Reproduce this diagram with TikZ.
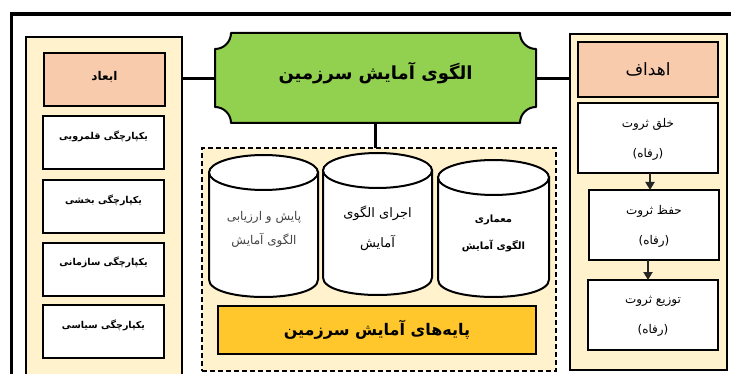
\documentclass[tikz,border=0pt]{standalone}
\usepackage{fontspec}
\newfontfamily\fa[Script=Arabic]{DejaVu Sans}
\TeXXeTstate=1
\usetikzlibrary{arrows.meta}
\definecolor{cream}{HTML}{FFF2CC}
\definecolor{salmon}{HTML}{F8CBAD}
\definecolor{leaf}{HTML}{92D050}
\definecolor{gold}{HTML}{FFC72C}
\definecolor{txtgray}{HTML}{444444}
\newcommand{\rl}[1]{\beginR #1\endR}
\newcommand{\drawcyl}[4]{%
  \pgfmathsetmacro\cxa{#1}\pgfmathsetmacro\cxb{#2}%
  \pgfmathsetmacro\cyt{#3+17.5}\pgfmathsetmacro\cyb{#4-17.5}%
  \pgfmathsetmacro\cyc{#4+5.83}%
  \pgfmathsetmacro\cxm{(#1+#2)/2}\pgfmathsetmacro\crx{(#2-#1)/2}%
  \draw[cylline] (\cxa,\cyt) -- (\cxa,\cyb) .. controls (\cxa,\cyc) and (\cxb,\cyc) .. (\cxb,\cyb) -- (\cxb,\cyt) -- cycle;
  \draw[cylline] (\cxm,\cyt) ellipse [x radius=\crx, y radius=17.5];
}
\tikzset{
  panel/.style={draw, line width=2pt, fill=cream, inner sep=0pt, outer sep=0pt, anchor=north west},
  box/.style={draw, line width=2.2pt, fill=white, inner sep=0pt, outer sep=0pt, anchor=north west},
  headbox/.style={box, fill=salmon},
  ltext/.style={font=\fa\bfseries\fontsize{9.5}{11}\selectfont},
  rtext/.style={font=\fa\fontsize{12}{30}\selectfont, align=center},
  conn/.style={line width=3pt},
  cylline/.style={draw, line width=2pt, fill=white},
  arr/.style={line width=2pt, draw=black!85, -{Triangle[length=8pt,width=9pt]}},
}
\begin{document}
\begin{tikzpicture}[x=1pt,y=-1pt]
\useasboundingbox (0,0) rectangle (731,374);
\clip (0,0) rectangle (731,374);
% outer frame
\draw[line width=3.5pt] (11.5,14) rectangle (745,390);

% left panel
\node[panel, minimum width=156pt, minimum height=350pt] (lpanel) at (26,37) {};
\node[headbox, minimum width=121pt, minimum height=53pt] (lhead) at (44,53) {};
\node[font=\fa\bfseries\fontsize{12}{14}\selectfont, yshift=3pt] (lheadt) at (lhead.center) {\rl{ابعاد}};
\node[box, minimum width=121pt, minimum height=53pt] (lb1) at (43,116) {};
\node[box, minimum width=121pt, minimum height=53pt] (lb2) at (43,180) {};
\node[box, minimum width=121pt, minimum height=53pt] (lb3) at (43,243) {};
\node[box, minimum width=121pt, minimum height=53pt] (lb4) at (43,305) {};
\node[ltext, yshift=6pt] (lt1) at (lb1.center) {\rl{یکپارچگی قلمرویی}};
\node[ltext, yshift=6pt] (lt2) at (lb2.center) {\rl{یکپارچگی بخشی}};
\node[ltext, yshift=7pt] (lt3) at (lb3.center) {\rl{یکپارچگی سازمانی}};
\node[ltext, yshift=6pt] (lt4) at (lb4.center) {\rl{یکپارچگی سیاسی}};

% right panel
\node[panel, minimum width=157pt, minimum height=336pt] (rpanel) at (570,34) {};
\node[headbox, minimum width=140pt, minimum height=55pt] (rhead) at (578,42) {};
\node[font=\fa\fontsize{17}{20}\selectfont] (rheadt) at (rhead.center) {\rl{اهداف}};
\node[box, minimum width=140pt, minimum height=70pt] (rb1) at (578,103) {};
\node[box, minimum width=130pt, minimum height=70pt] (rb2) at (589,190) {};
\node[box, minimum width=130pt, minimum height=70pt] (rb3) at (588,280) {};
\node[rtext, yshift=-1pt] (rt1) at (rb1.center) {\rl{خلق ثروت}\\\rl{(رفاه)}};
\node[rtext, yshift=-1pt] (rt2) at (rb2.center) {\rl{حفظ ثروت}\\\rl{(رفاه)}};
\node[rtext, yshift=-1pt] (rt3) at (rb3.center) {\rl{توزیع ثروت}\\\rl{(رفاه)}};
\draw[arr] (rb1.south -| 650,0) -- (rb2.north -| 650,0);
\draw[arr] (rb2.south -| 648,0) -- (rb3.north -| 648,0);

% central green title
\fill[leaf] (231,33) -- (520,33) .. controls (520,41.8) and (527.2,49) .. (536,49)
  -- (536,107) .. controls (527.2,107) and (520,114.2) .. (520,123)
  -- (231,123) .. controls (231,114.2) and (223.8,107) .. (215,107)
  -- (215,49) .. controls (223.8,49) and (231,41.8) .. (231,33) -- cycle;
\draw[line width=2pt, line join=round] (231,33) -- (520,33) .. controls (520,41.8) and (527.2,49) .. (536,49)
  -- (536,107) .. controls (527.2,107) and (520,114.2) .. (520,123)
  -- (231,123) .. controls (231,114.2) and (223.8,107) .. (215,107)
  -- (215,49) .. controls (223.8,49) and (231,41.8) .. (231,33) -- cycle;
\node[minimum width=321pt, minimum height=90pt, inner sep=0pt, outer sep=0pt] (green) at (375.5,78.5) {};
\node[font=\fa\bfseries\fontsize{18}{21}\selectfont, yshift=5pt] (greent) at (green.center) {\rl{الگوی آمایش سرزمین}};

% dashed container
\node[panel, dashed, dash pattern=on 5pt off 3pt, minimum width=354pt, minimum height=223pt] (dbox) at (202,148) {};

% connectors
\draw[conn] (green.west) -- (green.west -| lpanel.east);
\draw[conn] (green.east) -- (green.east -| rpanel.west);
\draw[line width=3.5pt] (green.south) -- (green.south |- dbox.north);

% cylinders
\drawcyl{209}{318}{155}{297}
\drawcyl{323}{432}{153}{295}
\drawcyl{438}{549}{160}{297}
\node[font=\fa\fontsize{12}{24}\selectfont, align=center, text=txtgray] (c1) at (264,229) {\rl{پایش و ارزیابی}\\\rl{الگوی آمایش}};
\node[font=\fa\fontsize{13}{30}\selectfont, align=center] (c2) at (377.5,228) {\rl{اجرای الگوی}\\\rl{آمایش}};
\node[font=\fa\bfseries\fontsize{10}{27}\selectfont, align=center] (c3) at (493.5,233) {\rl{معماری}\\\rl{الگوی آمایش}};

% foundation bar
\node[box, fill=gold, minimum width=318pt, minimum height=48pt] (base) at (218,306) {};
\node[font=\fa\bfseries\fontsize{16}{19}\selectfont] (baset) at (base.center) {\rl{پایه‌های آمایش سرزمین}};
\end{tikzpicture}
\end{document}
